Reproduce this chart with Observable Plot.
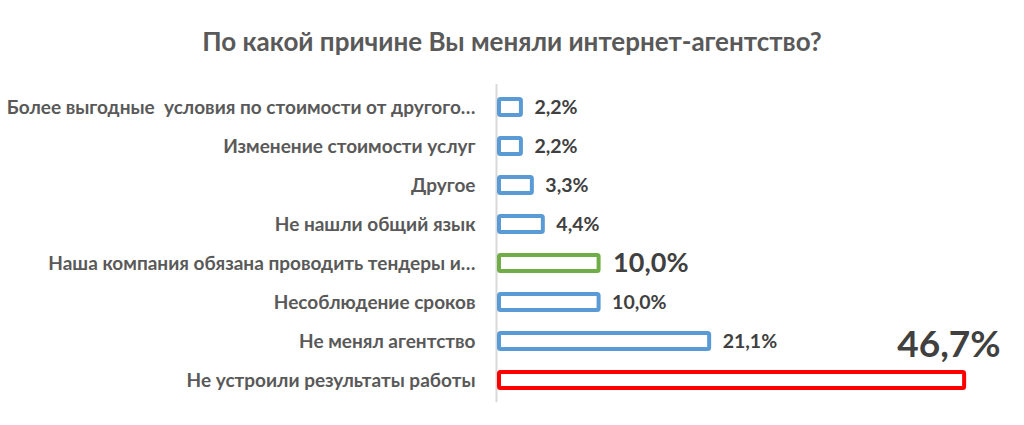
<!DOCTYPE html>
<html>
<head>
<meta charset="utf-8">
<script src="https://cdn.jsdelivr.net/npm/d3@7"></script>
<script src="https://cdn.jsdelivr.net/npm/@observablehq/plot@0.6"></script>
<style>
  html, body { margin: 0; padding: 0; background: #fff; }
  body { width: 1024px; height: 425px; overflow: hidden; font-family: Lato, "Open Sans", sans-serif; }
  #title { height: 80px; box-sizing: border-box; padding-top: 25px; text-align: center; font-size: 26px; font-weight: 700; color: #595959; }
  #chart svg { display: block; }
</style>
</head>
<body>
<div id="title">По какой причине Вы меняли интернет-агентство?</div>
<div id="chart"></div>
<script>
const categories = [
  "Более выгодные  условия по стоимости от другого…",
  "Изменение стоимости услуг",
  "Другое",
  "Не нашли общий язык",
  "Наша компания обязана проводить тендеры и…",
  "Несоблюдение сроков",
  "Не менял агентство",
  "Не устроили результаты работы"
];
const values = [2.2, 2.2, 3.3, 4.4, 10.0, 10.0, 21.1, 46.7];
const colors = ["#5b9bd5", "#5b9bd5", "#5b9bd5", "#5b9bd5", "#70ad47", "#5b9bd5", "#5b9bd5", "#ff0000"];
const highlight = [false, false, false, false, "side", false, false, "above"];

const data = categories.map((c, i) => ({cat: c, value: values[i], color: colors[i], hl: highlight[i]}));
const fmt = v => d3.format(".1f")(v).replace(".", ",") + "%";

const chart = Plot.plot({
  width: 1024,
  height: 345,
  marginLeft: 499,
  marginRight: 27,
  marginTop: 4,
  marginBottom: 23,
  style: {fontFamily: "Lato, 'Open Sans', sans-serif", fontWeight: 700, color: "#595959", background: "#fff"},
  x: {domain: [0, 50], axis: null},
  y: {domain: categories, paddingInner: 0.6, paddingOuter: 0.3, label: null},
  marks: [
    Plot.axisY({tickSize: 0, tickPadding: 24, fontSize: 19, fill: "#595959", label: null}),
    Plot.ruleX([0], {stroke: "#d9d9d9", strokeWidth: 2, dx: -3}),
    Plot.barX(data, {x: "value", y: "cat", fill: "white", stroke: "color", strokeWidth: 4, rx: 1.5}),
    Plot.text(data.filter(d => !d.hl), {x: "value", y: "cat", text: d => fmt(d.value), textAnchor: "start", dx: 13, fontSize: 19.5, fill: "#404040"}),
    Plot.text(data.filter(d => d.hl === "side"), {x: "value", y: "cat", text: d => fmt(d.value), textAnchor: "start", dx: 14, fontSize: 27, fill: "#404040"}),
    Plot.text(data.filter(d => d.hl === "above"), {x: "value", y: "cat", text: d => fmt(d.value), textAnchor: "end", dx: 36, dy: -35, fontSize: 37, fill: "#404040"})
  ]
});
document.getElementById("chart").appendChild(chart);
</script>
</body>
</html>
